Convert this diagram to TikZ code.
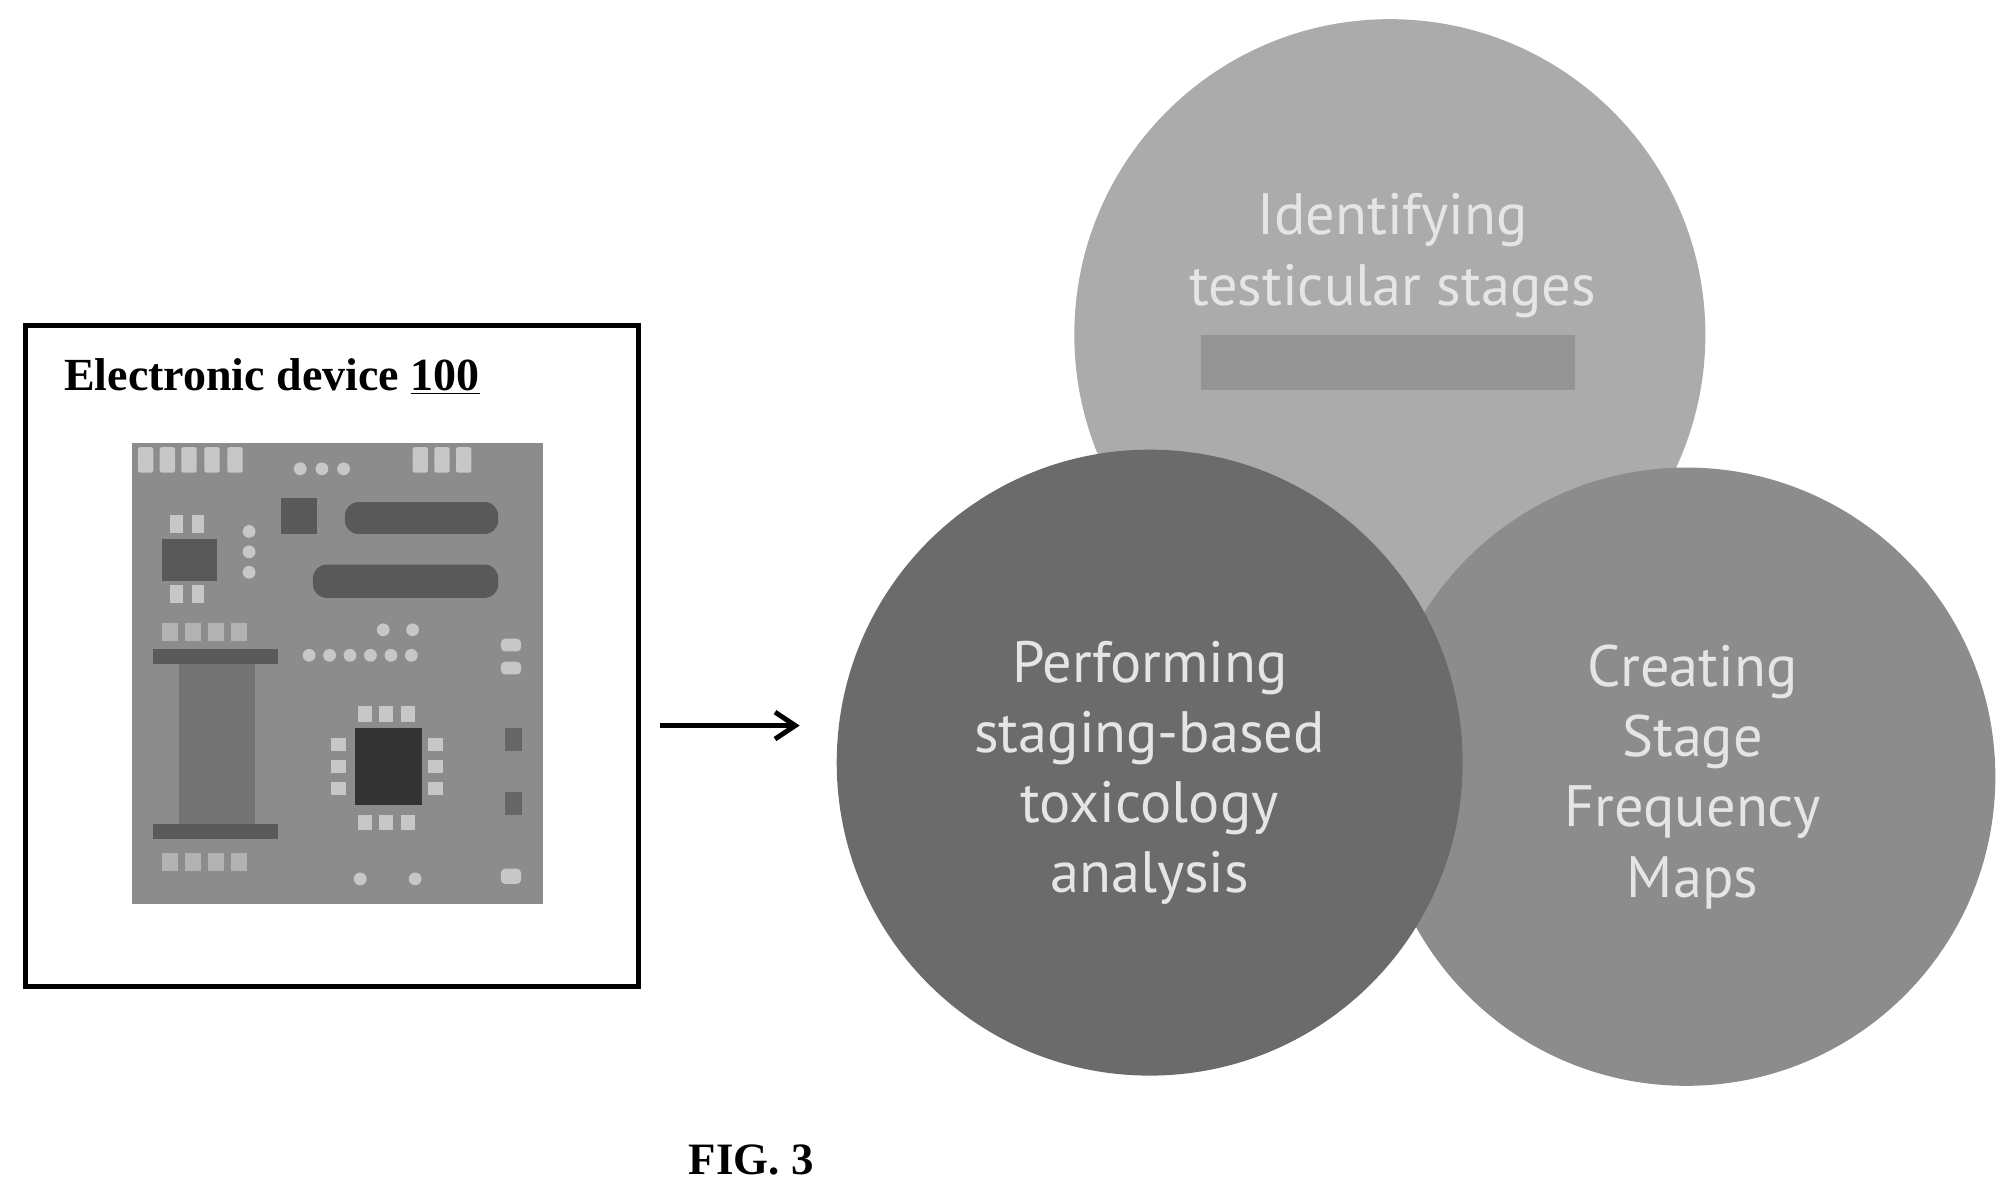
\documentclass[tikz,border=0pt]{standalone}
\usepackage{fontspec}
\usetikzlibrary{arrows.meta}
\setmainfont{Liberation Serif}
\newfontfamily\ptsans{PT Sans}
\begin{document}
\begin{tikzpicture}[x=0.02cm,y=-0.02cm,
  ctext/.style={font=\ptsans\fontsize{26}{31.3}\selectfont, text=black!10, align=center},
  lt/.style={fill=black!22}, dk/.style={fill=black!65}]
\useasboundingbox (0,0) rectangle (1568,937);
% device box
\node[draw, line width=2.2pt, minimum width=480*0.02cm, minimum height=517*0.02cm, anchor=north west] (box) at (18,253) {};
\node[anchor=west, font=\bfseries\fontsize{20.5}{24}\selectfont] (title) at (44,295) {Electronic device \underline{100}};
% chip
\fill[black!45] (103,347) rectangle (425,708);
\foreach \x in {108,125,142,160,178,323,340,357} \fill[lt,rounded corners=1pt] (\x,350) rectangle ++(12,20);
\foreach \x in {230,247,264} \fill[lt] (\x+5,367) circle (5);
\fill[dk] (220,390) rectangle (248,418);
\fill[dk,rounded corners=6pt] (270,393) rectangle (390,418);
\foreach \x in {133,150} {\fill[lt] (\x,403) rectangle ++(10,14); \fill[lt] (\x,458) rectangle ++(10,14);}
\fill[dk] (127,422) rectangle (170,455);
\foreach \y in {416,432,448} \fill[lt] (195,\y) circle (5);
\fill[dk,rounded corners=6pt] (245,442) rectangle (390,468);
\foreach \x in {127,145,163,181} \fill[black!30] (\x,488) rectangle ++(12,14);
\fill[dk] (120,508) rectangle (218,520);
\fill[black!55] (140,520) rectangle (200,645);
\fill[dk] (120,645) rectangle (218,657);
\foreach \x in {127,145,163,181} \fill[black!30] (\x,668) rectangle ++(12,14);
\foreach \x in {300,323} \fill[lt] (\x,493) circle (5);
\foreach \x in {242,258,274,290,306,322} \fill[lt] (\x,513) circle (5);
\fill[lt,rounded corners=2pt] (392,500) rectangle ++(16,10);
\fill[lt,rounded corners=2pt] (392,518) rectangle ++(16,10);
\fill[black!60] (395,570) rectangle ++(14,18);
\fill[black!60] (395,620) rectangle ++(14,18);
\foreach \x in {280,297,314} {\fill[lt] (\x,553) rectangle ++(11,12); \fill[lt] (\x,638) rectangle ++(11,12);}
\foreach \y in {578,595,612} {\fill[lt] (259,\y) rectangle ++(12,10); \fill[lt] (335,\y) rectangle ++(12,10);}
\fill[black!80] (278,570) rectangle (330,630);
\foreach \x in {282,325} \fill[lt] (\x,688) circle (5);
\fill[lt,rounded corners=2pt] (392,680) rectangle ++(16,12);
% arrow
\coordinate (a1) at (517,568); \coordinate (a2) at (626,568);
\draw[line width=2.2pt,-{Straight Barb[length=9pt,width=12pt]}] (a1) -- (a2);
% circles
\fill[black!33] (1088,262) circle (247);
\fill[black!45] (1320,608) circle (242);
\fill[black!58] (900,597) circle (245);
\fill[black!42] (940,262) rectangle (1233,305);
\node[ctext] (t1) at (1090,200) {Identifying\\testicular stages};
\node[ctext] (t2) at (900,605) {Performing\\staging-based\\toxicology\\analysis};
\node[ctext] (t3) at (1325,608) {Creating\\Stage\\Frequency\\Maps};
\node[font=\bfseries\fontsize{20}{24}\selectfont] (fig) at (588,908) {FIG. 3};
\end{tikzpicture}
\end{document}
